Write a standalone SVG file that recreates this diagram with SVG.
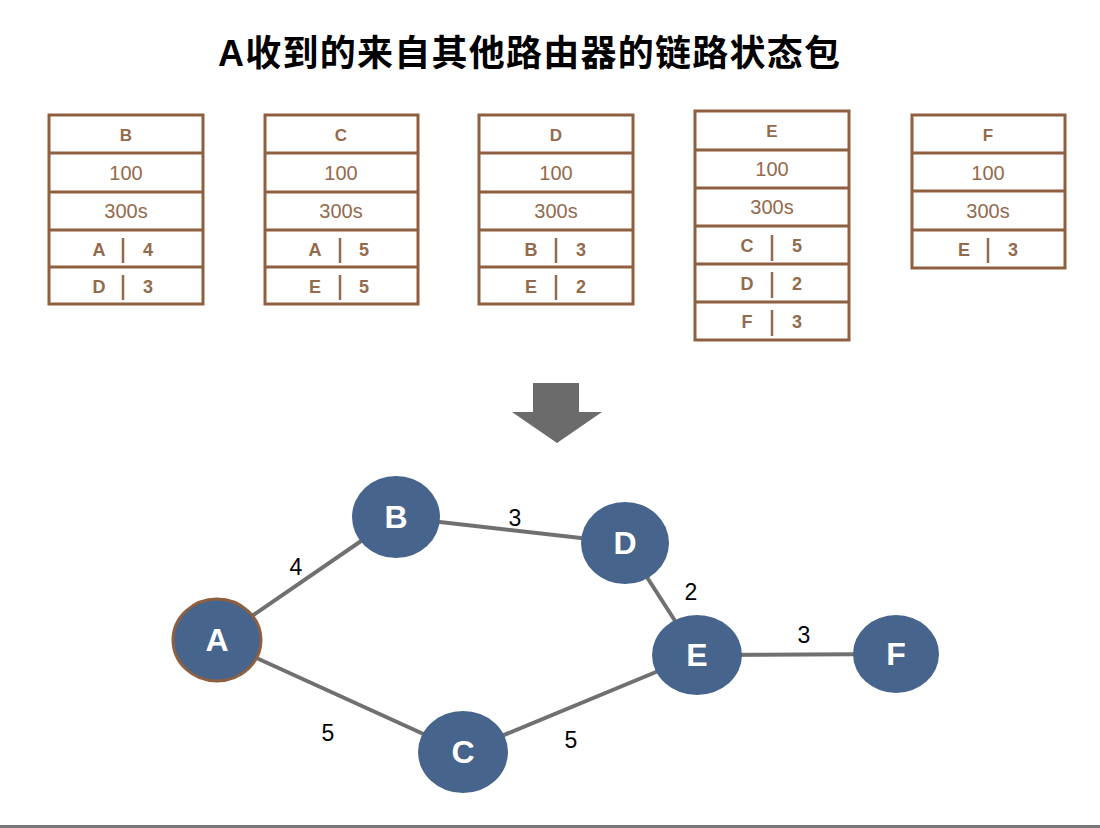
<svg xmlns="http://www.w3.org/2000/svg" width="1100" height="828" viewBox="0 0 1100 828">
<style>
.tb{fill:#fff;stroke:#8E5F40;stroke-width:3}
.ln{stroke:#8E5F40;stroke-width:3}
.th{font-family:"Liberation Sans",Arial,sans-serif;font-size:17px;font-weight:bold;fill:#946a4c;text-anchor:middle}
.tv{font-family:"Liberation Sans",Arial,sans-serif;font-size:20px;fill:#946a4c;text-anchor:middle}
.tr{font-family:"Liberation Sans",Arial,sans-serif;font-size:18px;font-weight:bold;fill:#946a4c;text-anchor:middle}
.bar{stroke:#946a4c;stroke-width:2.5}
.edge{stroke:#707070;stroke-width:4;fill:none}
.node{fill:#46648C}
.nl{font-family:"Liberation Sans",Arial,sans-serif;font-size:32px;font-weight:bold;fill:#fff;text-anchor:middle}
.el{font-family:"Liberation Sans",Arial,sans-serif;font-size:23px;fill:#000;text-anchor:middle}
</style>
<rect width="1100" height="828" fill="#fff"/>
<text x="529" y="66" font-family="'Liberation Sans','Noto Sans CJK SC',sans-serif" font-size="36" font-weight="bold" text-anchor="middle" textLength="622" lengthAdjust="spacing">A收到的来自其他路由器的链路状态包</text>

<g id="tableB">
<rect class="tb" x="49" y="115" width="154" height="189"/>
<line class="ln" x1="49" y1="153" x2="203" y2="153"/>
<line class="ln" x1="49" y1="192" x2="203" y2="192"/>
<line class="ln" x1="49" y1="230" x2="203" y2="230"/>
<line class="ln" x1="49" y1="267" x2="203" y2="267" stroke-width="5"/>
<text class="th" x="126" y="141">B</text>
<text class="tv" x="126" y="180">100</text>
<text class="tv" x="126" y="218">300s</text>
<text class="tr" x="99" y="256">A</text><line class="bar" x1="123" y1="238" x2="123" y2="263"/><text class="tr" x="148" y="256">4</text>
<text class="tr" x="99" y="293">D</text><line class="bar" x1="123" y1="275" x2="123" y2="300"/><text class="tr" x="148" y="293">3</text>
</g>

<g id="tableC">
<rect class="tb" x="265" y="115" width="153" height="189"/>
<line class="ln" x1="265" y1="153" x2="418" y2="153"/>
<line class="ln" x1="265" y1="192" x2="418" y2="192"/>
<line class="ln" x1="265" y1="230" x2="418" y2="230"/>
<line class="ln" x1="265" y1="267" x2="418" y2="267" stroke-width="5"/>
<text class="th" x="341" y="141">C</text>
<text class="tv" x="341" y="180">100</text>
<text class="tv" x="341" y="218">300s</text>
<text class="tr" x="315" y="256">A</text><line class="bar" x1="340" y1="238" x2="340" y2="263"/><text class="tr" x="364" y="256">5</text>
<text class="tr" x="315" y="293">E</text><line class="bar" x1="340" y1="275" x2="340" y2="300"/><text class="tr" x="364" y="293">5</text>
</g>

<g id="tableD">
<rect class="tb" x="479" y="115" width="154" height="189"/>
<line class="ln" x1="479" y1="153" x2="633" y2="153"/>
<line class="ln" x1="479" y1="192" x2="633" y2="192"/>
<line class="ln" x1="479" y1="230" x2="633" y2="230"/>
<line class="ln" x1="479" y1="267" x2="633" y2="267" stroke-width="5"/>
<text class="th" x="556" y="141">D</text>
<text class="tv" x="556" y="180">100</text>
<text class="tv" x="556" y="218">300s</text>
<text class="tr" x="531" y="256">B</text><line class="bar" x1="556" y1="238" x2="556" y2="263"/><text class="tr" x="581" y="256">3</text>
<text class="tr" x="531" y="293">E</text><line class="bar" x1="556" y1="275" x2="556" y2="300"/><text class="tr" x="581" y="293">2</text>
</g>

<g id="tableE">
<rect class="tb" x="695" y="111" width="154" height="229"/>
<line class="ln" x1="695" y1="150" x2="849" y2="150"/>
<line class="ln" x1="695" y1="188" x2="849" y2="188"/>
<line class="ln" x1="695" y1="226" x2="849" y2="226"/>
<line class="ln" x1="695" y1="264" x2="849" y2="264"/>
<line class="ln" x1="695" y1="302" x2="849" y2="302"/>
<text class="th" x="772" y="137">E</text>
<text class="tv" x="772" y="176">100</text>
<text class="tv" x="772" y="214">300s</text>
<text class="tr" x="747" y="252">C</text><line class="bar" x1="772" y1="235" x2="772" y2="261"/><text class="tr" x="797" y="252">5</text>
<text class="tr" x="747" y="290">D</text><line class="bar" x1="772" y1="272" x2="772" y2="298"/><text class="tr" x="797" y="290">2</text>
<text class="tr" x="747" y="328">F</text><line class="bar" x1="772" y1="310" x2="772" y2="336"/><text class="tr" x="797" y="328">3</text>
</g>

<g id="tableF">
<rect class="tb" x="912" y="115" width="153" height="153"/>
<line class="ln" x1="912" y1="153" x2="1065" y2="153"/>
<line class="ln" x1="912" y1="191" x2="1065" y2="191"/>
<line class="ln" x1="912" y1="230" x2="1065" y2="230"/>
<text class="th" x="988" y="141">F</text>
<text class="tv" x="988" y="180">100</text>
<text class="tv" x="988" y="218">300s</text>
<text class="tr" x="964" y="256">E</text><line class="bar" x1="988" y1="238" x2="988" y2="263"/><text class="tr" x="1013" y="256">3</text>
</g>

<g id="arrow">
<polygon points="533,383 579,383 579,412 602,412 557,443 512,412 533,412" fill="#6b6b6b"/>
</g>

<g id="edges">
<line class="edge" x1="217" y1="640" x2="396" y2="517"/>
<line class="edge" x1="217" y1="640" x2="463" y2="752"/>
<line class="edge" x1="396" y1="517" x2="625" y2="543"/>
<line class="edge" x1="625" y1="543" x2="697" y2="655"/>
<line class="edge" x1="463" y1="752" x2="697" y2="655"/>
<line class="edge" x1="697" y1="655" x2="896" y2="654"/>
<text class="el" x="296" y="575">4</text>
<text class="el" x="515" y="526">3</text>
<text class="el" x="691" y="600">2</text>
<text class="el" x="804" y="643">3</text>
<text class="el" x="328" y="741">5</text>
<text class="el" x="571" y="748">5</text>
</g>

<g id="nodeA"><ellipse class="node" cx="217" cy="640" rx="44" ry="41" stroke="#8E5F40" stroke-width="3"/><text class="nl" x="217" y="651">A</text></g>
<g id="nodeB"><ellipse class="node" cx="396" cy="517" rx="44" ry="41"/><text class="nl" x="396" y="528">B</text></g>
<g id="nodeC"><ellipse class="node" cx="463" cy="752" rx="45" ry="41"/><text class="nl" x="463" y="763">C</text></g>
<g id="nodeD"><ellipse class="node" cx="625" cy="543" rx="44" ry="41"/><text class="nl" x="625" y="554">D</text></g>
<g id="nodeE"><ellipse class="node" cx="697" cy="655" rx="45" ry="40"/><text class="nl" x="697" y="666">E</text></g>
<g id="nodeF"><ellipse class="node" cx="896" cy="654" rx="43" ry="39"/><text class="nl" x="896" y="665">F</text></g>

<line x1="0" y1="826.5" x2="1100" y2="826.5" stroke="#777" stroke-width="3"/>
</svg>
